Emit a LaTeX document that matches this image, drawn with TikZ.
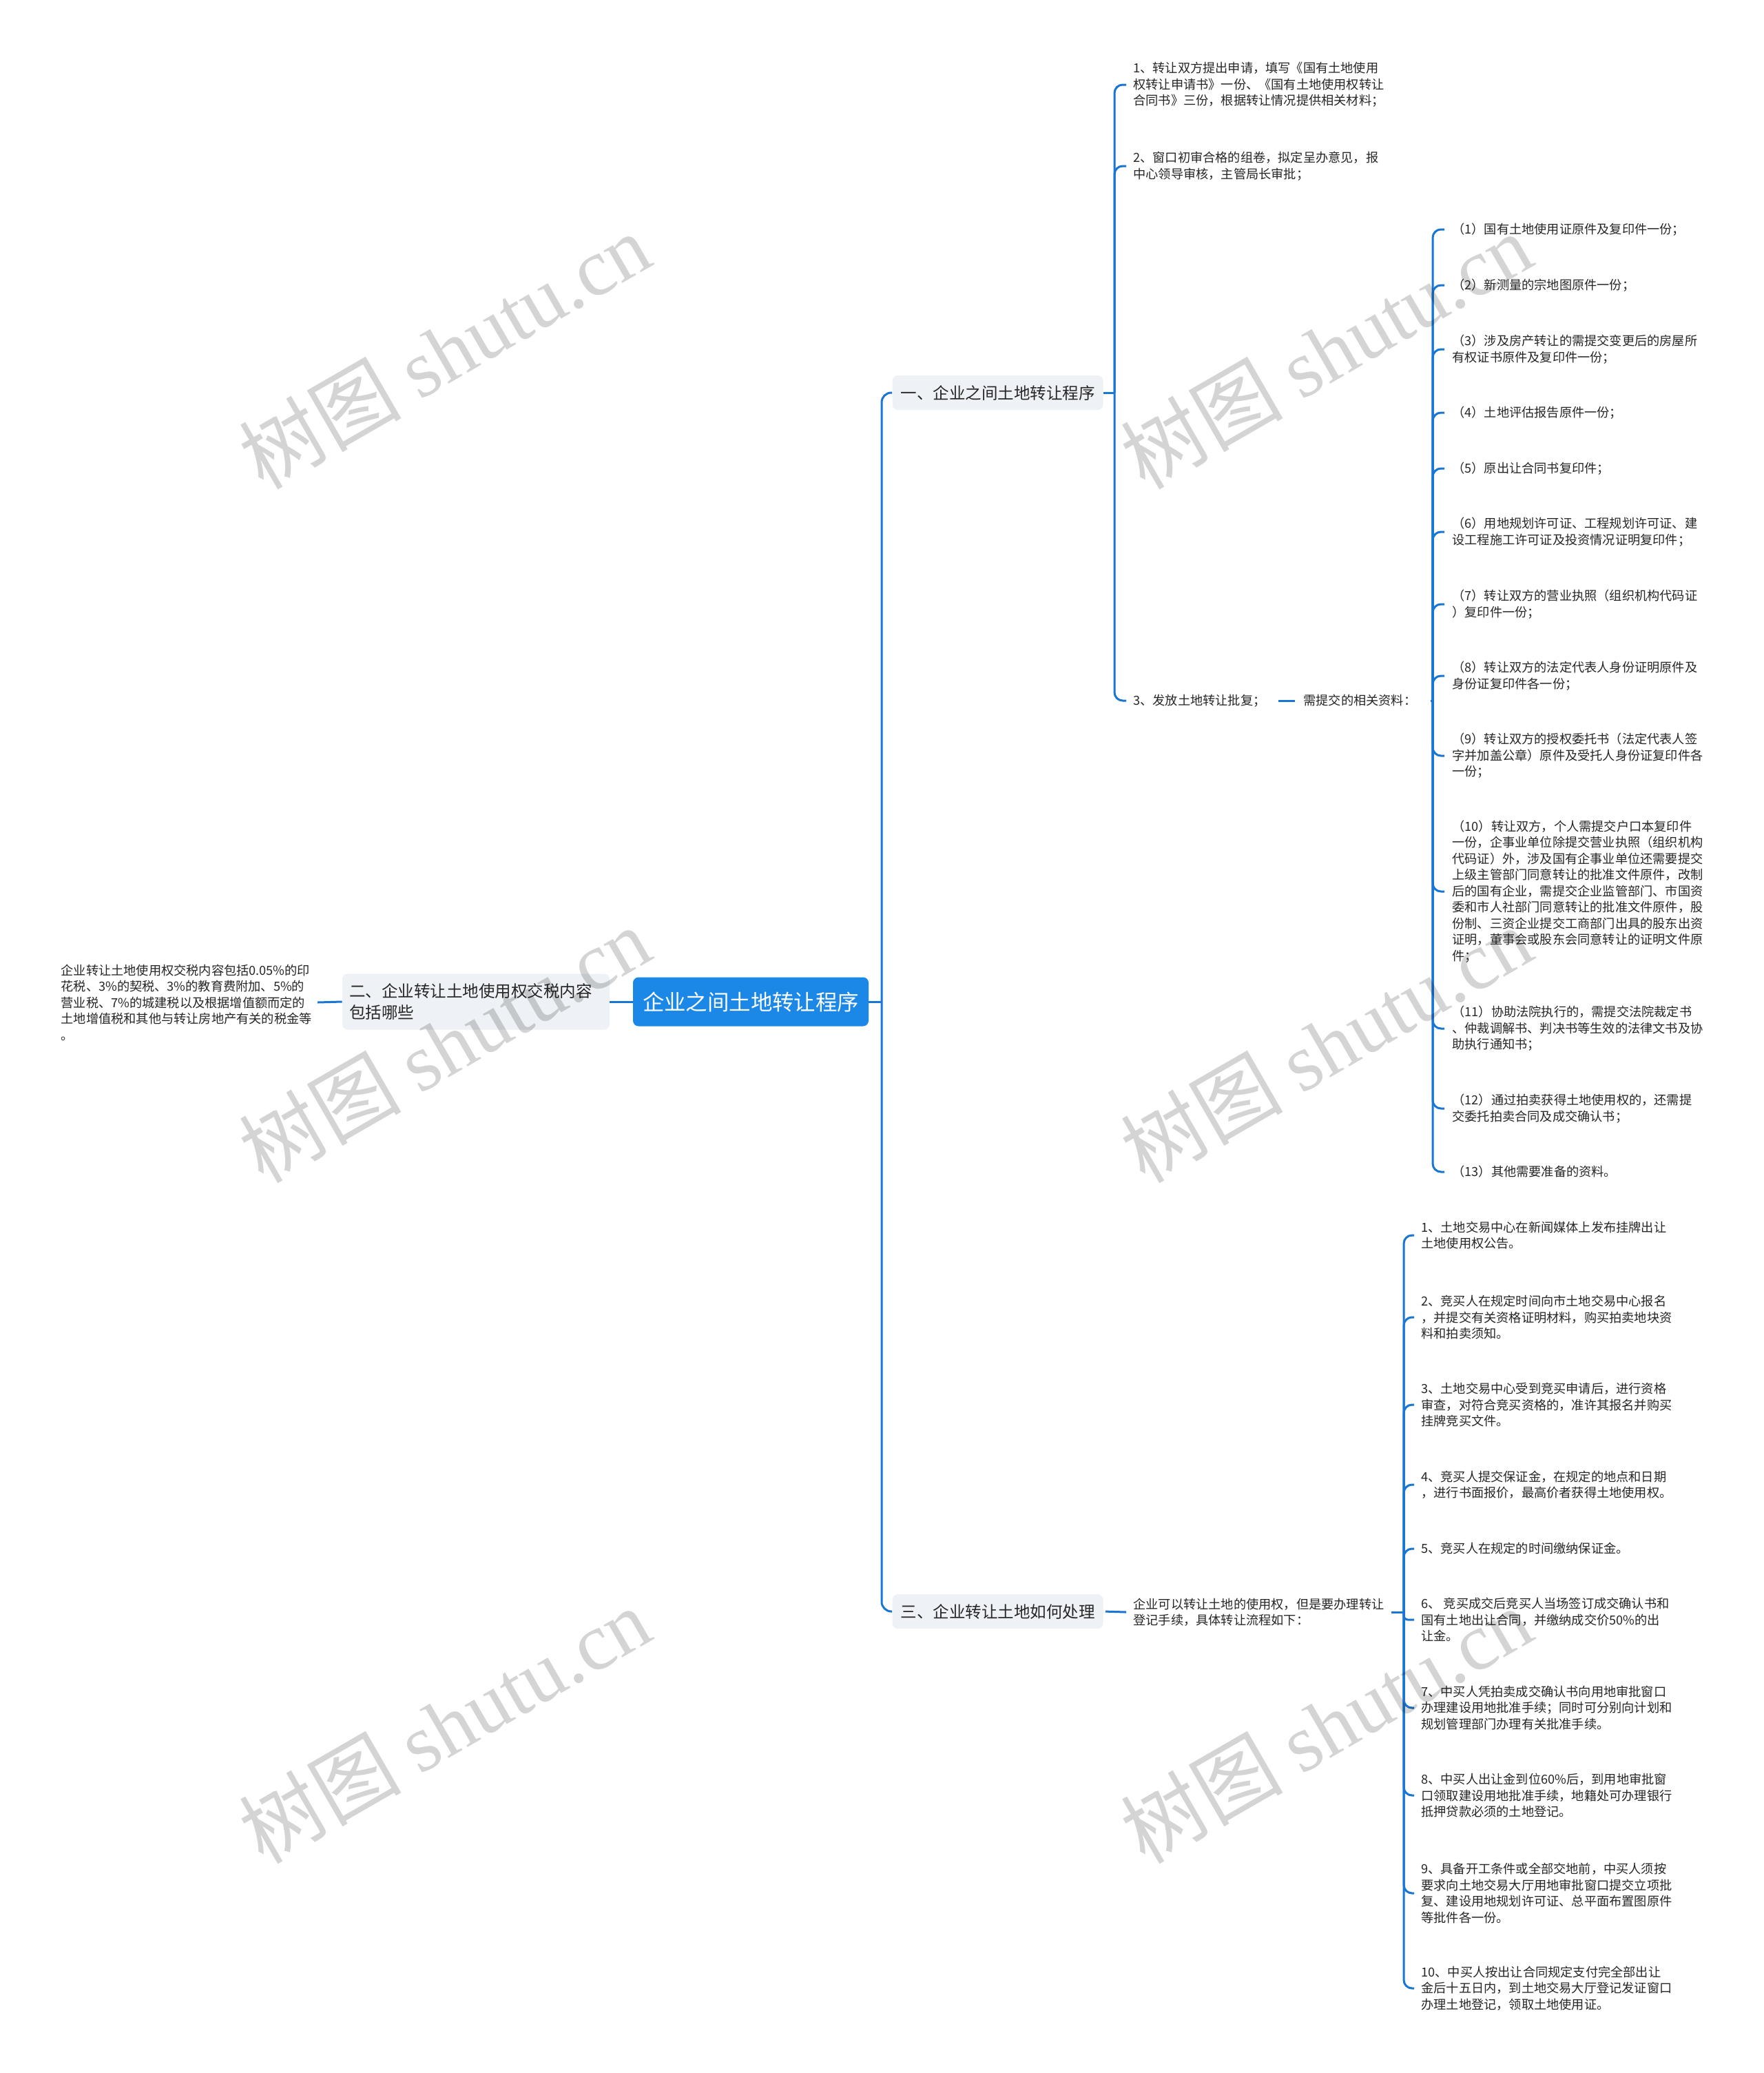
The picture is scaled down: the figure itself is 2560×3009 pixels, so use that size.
\documentclass[tikz,border=0pt]{standalone}
\usepackage{fontspec}
\setmainfont{Noto Sans CJK SC}
\newfontfamily\wmlatin{Liberation Serif}
\usetikzlibrary{calc}
\definecolor{rootblue}{HTML}{1B87E6}
\definecolor{linkblue}{HTML}{1976D2}
\definecolor{lonefill}{HTML}{EEF1F5}
\definecolor{txt}{HTML}{262626}
\begin{document}
\begin{tikzpicture}[x=0.5pt,y=-0.5pt,
  conn/.style={draw=linkblue,line width=1.5pt,rounded corners=6pt},
  rootbox/.style={fill=rootblue,text=white,rounded corners=4pt,font=\fontsize{15.7}{19}\selectfont,minimum width=171pt,minimum height=35.5pt,inner sep=0pt},
  lonebox/.style={fill=lonefill,text=txt,rounded corners=4pt,font=\fontsize{11.75}{15.5}\selectfont,align=left,inner xsep=6pt,inner ysep=6.5pt},
  item/.style={text=txt,font=\fontsize{9.1}{11.75}\selectfont,align=left,anchor=west,inner xsep=5pt,inner ysep=2pt},
  subitem/.style={item,inner xsep=5.5pt},
  wmk/.style={rotate=30,text=black,text opacity=0.17,font=\fontsize{59}{59}\selectfont},
]
\fill[white] (0,0) rectangle (2560,3009);
\useasboundingbox (0,0) rectangle (2560,3009);

% root and level 1
\node[rootbox] (root) at (1090,1454) {企业之间土地转让程序};
\node[lonebox,minimum width=151.5pt,minimum height=25pt] (n1) at (1448.5,570) {一、企业之间土地转让程序};
\node[lonebox,text width=184pt,inner xsep=5pt,minimum height=40.5pt] (n2) at (691,1454) {二、企业转让土地使用权交税内容\\包括哪些};
\node[lonebox,minimum width=151.5pt,minimum height=25pt] (n3) at (1448.5,2339) {三、企业转让土地如何处理};

% left branch
\node[item,anchor=east,inner xsep=4pt] (tax) at (461,1455) {企业转让土地使用权交税内容包括0.05\%的印\\花税、3\%的契税、3\%的教育费附加、5\%的\\营业税、7\%的城建税以及根据增值额而定的\\土地增值税和其他与转让房地产有关的税金等\\。};

% branch 1
\node[item] (a1) at (1635,123) {1、转让双方提出申请，填写《国有土地使用\\权转让申请书》一份、《国有土地使用权转让\\合同书》三份，根据转让情况提供相关材料；};
\node[item] (a2) at (1635,241) {2、窗口初审合格的组卷，拟定呈办意见，报\\中心领导审核，主管局长审批；};
\node[item] (a3) at (1635,1017) {3、发放土地转让批复；};
\node[item] (need) at (1882,1017) {需提交的相关资料：};

\node[subitem] (b1) at (2097,333) {（1）国有土地使用证原件及复印件一份；};
\node[subitem] (b2) at (2097,414) {（2）新测量的宗地图原件一份；};
\node[subitem] (b3) at (2097,507) {（3）涉及房产转让的需提交变更后的房屋所\\有权证书原件及复印件一份；};
\node[subitem] (b4) at (2097,599) {（4）土地评估报告原件一份；};
\node[subitem] (b5) at (2097,680) {（5）原出让合同书复印件；};
\node[subitem] (b6) at (2097,772) {（6）用地规划许可证、工程规划许可证、建\\设工程施工许可证及投资情况证明复印件；};
\node[subitem] (b7) at (2097,877) {（7）转让双方的营业执照（组织机构代码证\\）复印件一份；};
\node[subitem] (b8) at (2097,981) {（8）转让双方的法定代表人身份证明原件及\\身份证复印件各一份；};
\node[subitem] (b9) at (2097,1097) {（9）转让双方的授权委托书（法定代表人签\\字并加盖公章）原件及受托人身份证复印件各\\一份；};
\node[subitem] (b10) at (2097,1294) {（10）转让双方，个人需提交户口本复印件\\一份，企事业单位除提交营业执照（组织机构\\代码证）外，涉及国有企事业单位还需要提交\\上级主管部门同意转让的批准文件原件，改制\\后的国有企业，需提交企业监管部门、市国资\\委和市人社部门同意转让的批准文件原件，股\\份制、三资企业提交工商部门出具的股东出资\\证明，董事会或股东会同意转让的证明文件原\\件；};
\node[subitem] (b11) at (2097,1493) {（11）协助法院执行的，需提交法院裁定书\\、仲裁调解书、判决书等生效的法律文书及协\\助执行通知书；};
\node[subitem] (b12) at (2097,1609) {（12）通过拍卖获得土地使用权的，还需提\\交委托拍卖合同及成交确认书；};
\node[subitem] (b13) at (2097,1701) {（13）其他需要准备的资料。};

% branch 3
\node[item] (c0) at (1635,2340) {企业可以转让土地的使用权，但是要办理转让\\登记手续，具体转让流程如下：};
\node[item] (c1) at (2053,1793) {1、土地交易中心在新闻媒体上发布挂牌出让\\土地使用权公告。};
\node[item] (c2) at (2053,1912) {2、竞买人在规定时间向市土地交易中心报名\\，并提交有关资格证明材料，购买拍卖地块资\\料和拍卖须知。};
\node[item] (c3) at (2053,2039) {3、土地交易中心受到竞买申请后，进行资格\\审查，对符合竞买资格的，准许其报名并购买\\挂牌竞买文件。};
\node[item] (c4) at (2053,2155) {4、竞买人提交保证金，在规定的地点和日期\\，进行书面报价，最高价者获得土地使用权。};
\node[item] (c5) at (2053,2248) {5、竞买人在规定的时间缴纳保证金。};
\node[item] (c6) at (2053,2351) {6、 竞买成交后竞买人当场签订成交确认书和\\国有土地出让合同，并缴纳成交价50\%的出\\让金。};
\node[item] (c7) at (2053,2479) {7、中买人凭拍卖成交确认书向用地审批窗口\\办理建设用地批准手续；同时可分别向计划和\\规划管理部门办理有关批准手续。};
\node[item] (c8) at (2053,2606) {8、中买人出让金到位60\%后，到用地审批窗\\口领取建设用地批准手续，地籍处可办理银行\\抵押贷款必须的土地登记。};
\node[item] (c9) at (2053,2748) {9、具备开工条件或全部交地前，中买人须按\\要求向土地交易大厅用地审批窗口提交立项批\\复、建设用地规划许可证、总平面布置图原件\\等批件各一份。};
\node[item] (c10) at (2053,2886) {10、中买人按出让合同规定支付完全部出让\\金后十五日内，到土地交易大厅登记发证窗口\\办理土地登记，领取土地使用证。};

% junctions
\coordinate (j0) at (1280,0 |- root.east);
\coordinate (j1) at (1618,0 |- n1.east);
\coordinate (j2) at (2080,0 |- need.east);
\coordinate (j3) at (2038,0 |- c0.east);

% connectors
\draw[conn] (root.west) -- (n2.east);
\draw[conn] (n2.west) -- (tax.east);
\draw[conn] (root.east) -- (j0);
\draw[conn,rounded corners=7pt] (j0) |- (n1.west);
\draw[conn,rounded corners=7pt] (j0) |- (n3.west);

\draw[conn] (n1.east) -- (j1);
\foreach \k in {a1,a2,a3} \draw[conn] (j1) |- (\k.west);
\draw[conn,shorten <=4pt,shorten >=1pt] (a3.east) -- (need.west);
\draw[conn,shorten <=5pt] (need.east) -- (j2);
\foreach \k in {b1,b2,b3,b4,b5,b6,b7,b8,b9,b10,b11,b12,b13} \draw[conn] (j2) |- (\k.west);

\draw[conn,shorten <=1.5pt] (n3.east) -- (c0.west);
\draw[conn] (c0.east) -- (j3);
\foreach \k in {c1,c2,c3,c4,c5,c7,c8,c9,c10} \draw[conn] (j3) |- (\k.west);
\draw[conn,rounded corners=3pt] (j3) |- (c6.west);

% watermarks
\foreach \wx/\wy in {645/509,1925/509,645/1516,1925/1516,645/2504,1925/2504}
  \node[wmk] at (\wx,\wy) {树图 {\wmlatin shutu.cn}};
\end{tikzpicture}
\end{document}
